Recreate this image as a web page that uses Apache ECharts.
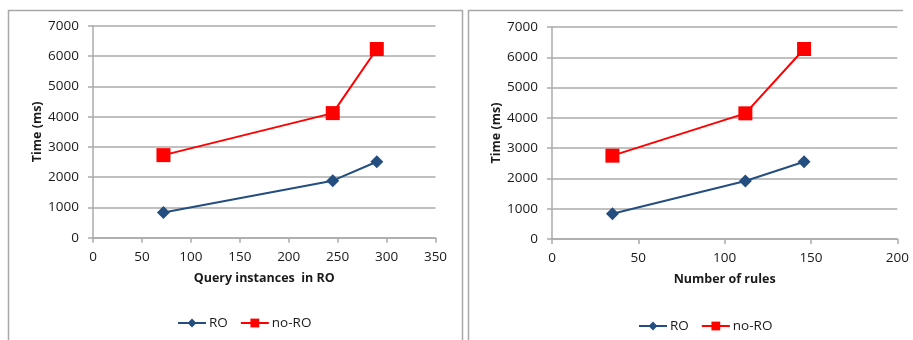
<!DOCTYPE html>
<html>
<head>
<meta charset="utf-8">
<script src="https://cdn.jsdelivr.net/npm/echarts@6/dist/echarts.min.js"></script>
<style>
  html, body { margin: 0; padding: 0; background: #fff; }
  #chart { width: 913px; height: 340px; }
</style>
</head>
<body>
<div id="chart"></div>
<script>
// Left panel: time vs. number of query instances in RO
const queryInstances = [72, 245, 290];
const roTimeByQueries = [830, 1885, 2510];
const noRoTimeByQueries = [2730, 4120, 6240];

// Right panel: time vs. number of rules
const ruleCounts = [35, 112, 146];
const roTimeByRules = [836, 1915, 2552];
const noRoTimeByRules = [2752, 4149, 6273];

const seriesNames = ['RO', 'no-RO'];
const leftXTitle = 'Query instances  in RO';
const rightXTitle = 'Number of rules';
const yTitle = 'Time (ms)';

const FONT = '"Open Sans", "Noto Sans", sans-serif';
const TEXT = '#1a1a1a';
const GRIDLINE = '#ababab';
const BLUE = '#244e80';
const RED = '#ff0000';

const pairs = (xs, ys) => xs.map((x, i) => [x, ys[i]]);
const plain = v => String(v);

function xAxis(gridIndex, max, interval, name) {
  return {
    type: 'value', gridIndex, min: 0, max, interval,
    name, nameLocation: 'middle', nameGap: 34,
    nameTextStyle: { fontFamily: FONT, fontSize: 12.5, fontWeight: 'bold', color: TEXT },
    axisLine: { show: true, lineStyle: { color: GRIDLINE, width: 1.5 } },
    axisTick: { show: true, length: 5, lineStyle: { color: GRIDLINE, width: 1.5 } },
    axisLabel: { fontFamily: FONT, fontSize: 13.5, color: TEXT, margin: 12, formatter: plain },
    splitLine: { show: false }
  };
}

function yAxis(gridIndex) {
  return {
    type: 'value', gridIndex, min: 0, max: 7000, interval: 1000,
    name: yTitle, nameLocation: 'middle', nameGap: 48,
    nameTextStyle: { fontFamily: FONT, fontSize: 12.5, fontWeight: 'bold', color: TEXT },
    axisLine: { show: true, lineStyle: { color: GRIDLINE, width: 1.5 } },
    axisTick: { show: true, length: 5, lineStyle: { color: GRIDLINE, width: 1.5 } },
    axisLabel: { fontFamily: FONT, fontSize: 13.5, color: TEXT, margin: 14, formatter: plain },
    splitLine: { show: true, lineStyle: { color: GRIDLINE, width: 1.5 } }
  };
}

function lineSeries(name, idx, data, color, symbol, size) {
  return {
    name, type: 'line', xAxisIndex: idx, yAxisIndex: idx, data,
    symbol, symbolSize: size, showAllSymbol: true,
    lineStyle: { color, width: 2 },
    itemStyle: { color },
    animation: false
  };
}

function legend(left, top) {
  return {
    data: seriesNames, left, top,
    itemWidth: 28, itemHeight: 11, itemGap: 12,
    textStyle: { fontFamily: FONT, fontSize: 13.5, color: TEXT, padding: [0, 0, 0, -2] },
    selectedMode: false
  };
}

const chart = echarts.init(document.getElementById('chart'), null, { renderer: 'canvas' });
chart.setOption({
  backgroundColor: '#fff',
  animation: false,
  graphic: [
    { type: 'polyline', shape: { points: [[8.5, 345], [8.5, 10.5], [462.5, 10.5], [462.5, 345]] },
      style: { stroke: '#a8a8a8', lineWidth: 1.5, fill: null } },
    { type: 'polyline', shape: { points: [[468.5, 345], [468.5, 10.5], [903, 10.5]] },
      style: { stroke: '#a8a8a8', lineWidth: 1.5, fill: null } }
  ],
  grid: [
    { left: 93, top: 26, width: 342.5, height: 211.7 },
    { left: 552, top: 27, width: 345.3, height: 212 }
  ],
  legend: [legend(172, 311), legend(633, 314)],
  xAxis: [
    xAxis(0, 350, 50, leftXTitle),
    xAxis(1, 200, 50, rightXTitle)
  ],
  yAxis: [yAxis(0), yAxis(1)],
  series: [
    lineSeries('RO', 0, pairs(queryInstances, roTimeByQueries), BLUE, 'diamond', 13),
    lineSeries('no-RO', 0, pairs(queryInstances, noRoTimeByQueries), RED, 'rect', 14),
    lineSeries('RO', 1, pairs(ruleCounts, roTimeByRules), BLUE, 'diamond', 13),
    lineSeries('no-RO', 1, pairs(ruleCounts, noRoTimeByRules), RED, 'rect', 14)
  ]
});
</script>
</body>
</html>
